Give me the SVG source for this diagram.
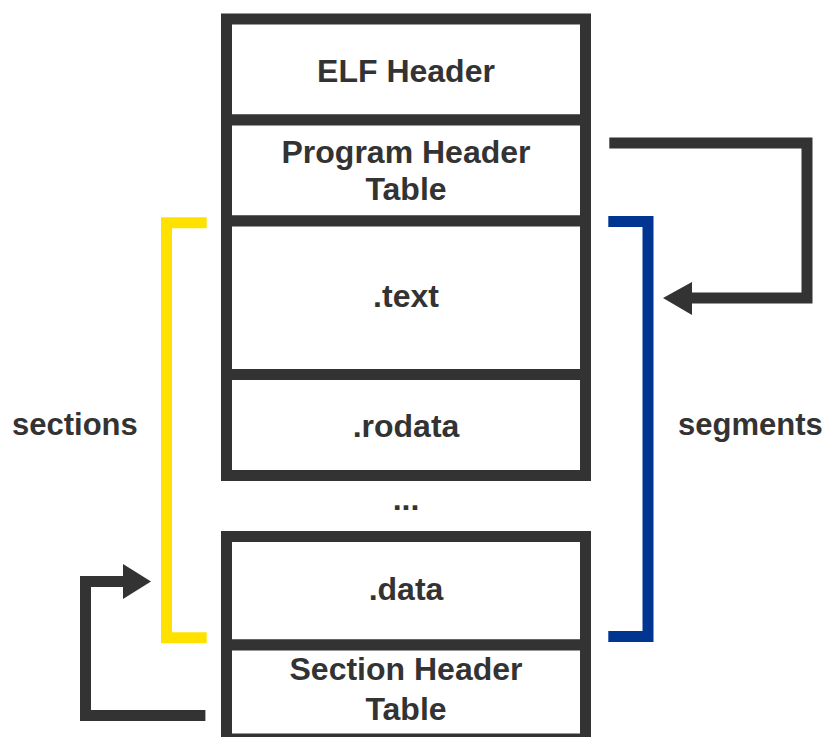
<svg xmlns="http://www.w3.org/2000/svg" width="827" height="737" viewBox="0 0 827 737">
<style>
.cell{fill:#fff;stroke:#333;stroke-width:11}
.t{font-family:"Liberation Sans",Arial,sans-serif;font-weight:bold;font-size:32px;fill:#333;text-anchor:middle}
.lbl{font-family:"Liberation Sans",Arial,sans-serif;font-weight:bold;font-size:31px;fill:#333}
.con{fill:none;stroke-width:11;stroke-linejoin:miter;stroke-linecap:butt}
</style>
<rect width="827" height="737" fill="#fff"/>
<g id="elf-header"><rect class="cell" x="226.5" y="19" width="359" height="101"/><text class="t" x="406" y="82">ELF Header</text></g>
<g id="program-header-table"><rect class="cell" x="226.5" y="120" width="359" height="101"/><text class="t" x="406" y="163">Program Header</text><text class="t" x="406" y="200">Table</text></g>
<g id="text"><rect class="cell" x="226.5" y="221" width="359" height="153.5"/><text class="t" x="406" y="307">.text</text></g>
<g id="rodata"><rect class="cell" x="226.5" y="374.5" width="359" height="101"/><text class="t" x="406" y="437">.rodata</text></g>
<g id="ellipsis"><text class="t" x="406" y="510">...</text></g>
<g id="data"><rect class="cell" x="226.5" y="536.5" width="359" height="108.5"/><text class="t" x="406" y="600">.data</text></g>
<g id="section-header-table"><rect class="cell" x="226.5" y="645" width="359" height="94"/><text class="t" x="406" y="680">Section Header</text><text class="t" x="406" y="720">Table</text></g>
<g id="sections-label"><text class="lbl" x="12" y="435">sections</text></g>
<g id="segments-label"><text class="lbl" x="678" y="435">segments</text></g>
<g id="connectors">
<path class="con" stroke="#FFE100" d="M206.7,222.8 H166.5 V637.8 H206.7"/>
<path class="con" stroke="#003591" d="M608.3,221.5 H648 V636.5 H608.3"/>
<path class="con" stroke="#333" d="M609.3,143 H807 V298 H690"/>
<polygon fill="#333" points="663,298 692,282 692,315"/>
<path class="con" stroke="#333" d="M205.4,715.5 H85.5 V581.5 H125"/>
<polygon fill="#333" points="151,581.5 123,564 123,599"/>
</g>
</svg>
